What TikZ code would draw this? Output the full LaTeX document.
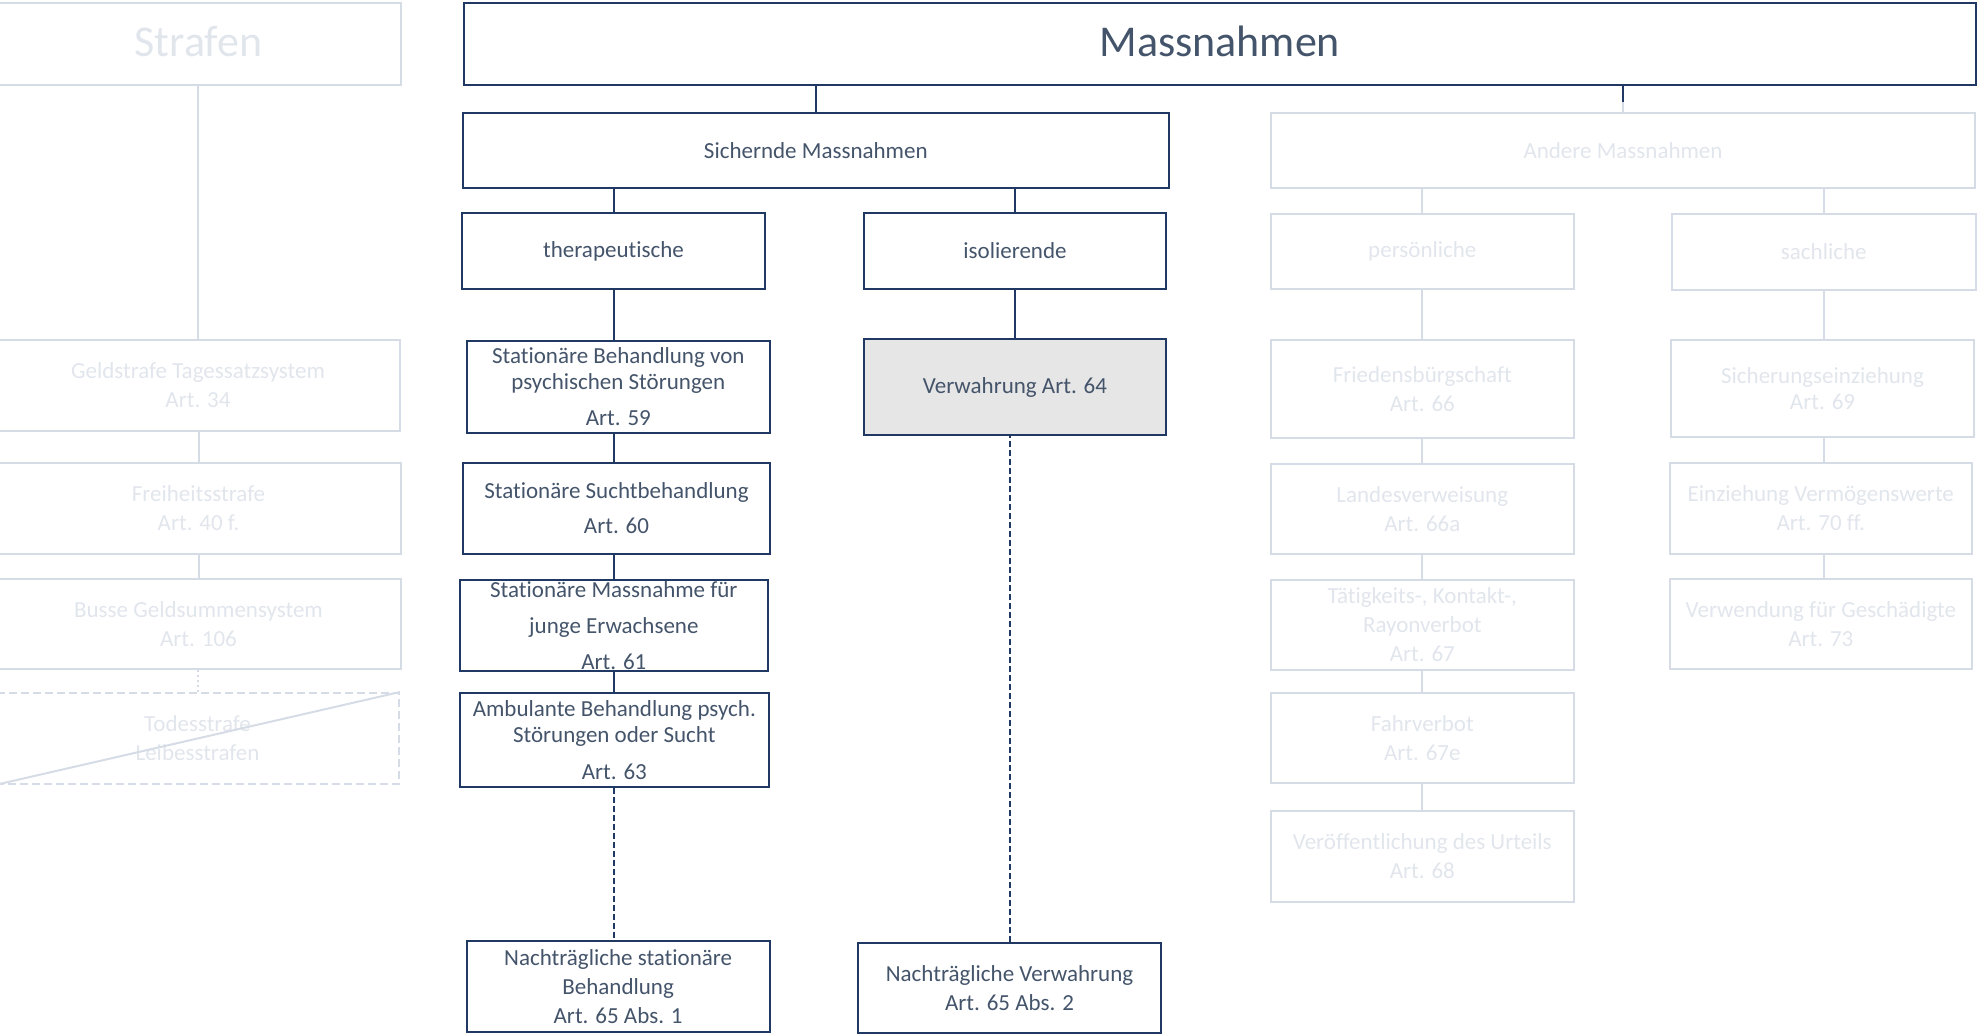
\documentclass[tikz,border=0pt]{standalone}
\usepackage{fontspec}
\setmainfont{Carlito}[Ligatures={NoCommon}]
\usetikzlibrary{calc}
\definecolor{navy}{HTML}{203864}
\definecolor{inkdark}{HTML}{44546A}
\definecolor{paleline}{HTML}{D6DCE5}
\definecolor{paletext}{HTML}{E1E5EC}
\definecolor{boxgray}{HTML}{E6E6E6}

% box given by its corners: name, x1, y1, x2, y2, style, text
\newcommand\chartbox[7]{%
  \node[#6, minimum width={#4-(#2)}, minimum height={#5-(#3)}]
    (#1) at ({(#2+#4)/2},{(#3+#5)/2}) {#7};}

\tikzset{
  dbox/.style={draw=navy, line width=2pt, text=inkdark, align=center,
    inner sep=0pt, font=\fontsize{23}{29}\selectfont},
  lbox/.style={draw=paleline, line width=2pt, text=paletext, align=center,
    inner sep=0pt, font=\fontsize{23}{29}\selectfont},
  titlefont/.style={font=\fontsize{44}{50}\selectfont, text depth=5pt},
  dlink/.style={draw=navy, line width=2pt},
  llink/.style={draw=paleline, line width=2pt},
  ddash/.style={dlink, dash pattern=on 6pt off 3pt},
}

\begin{document}
\begin{tikzpicture}[x=1pt, y=-1pt]
\useasboundingbox (0,0) rectangle (1977,1034);
\clip (0,0) rectangle (1977,1034);

% ---- Strafen (pale) ----
\chartbox{strafen}{-4}{3}{401}{85}{lbox, titlefont}{Strafen}
\chartbox{geld}{-4}{340}{400}{431}{lbox}{Geldstrafe Tagessatzsystem\\Art. 34}
\chartbox{frei}{-4}{463}{401}{554}{lbox}{Freiheitsstrafe\\Art. 40 f.}
\chartbox{busse}{-4}{579}{401}{669}{lbox}{Busse Geldsummensystem\\Art. 106}
\chartbox{todes}{-4}{693}{399}{784}{lbox, dash pattern=on 8pt off 4pt}{Todesstrafe\\Leibesstrafen}
\draw[llink] (todes.south west) -- (todes.north east);

\draw[llink] (geld.north) -- (geld.north |- strafen.south);
\draw[llink] (frei.north) -- (frei.north |- geld.south);
\draw[llink] (busse.north) -- (busse.north |- frei.south);
\draw[llink, dash pattern=on 2pt off 3pt] (todes.north) -- (todes.north |- busse.south);

% ---- Massnahmen ----
\chartbox{mass}{464}{3}{1975.5}{85}{dbox, titlefont}{Massnahmen}

% sichernde Massnahmen
\chartbox{sich}{463}{113}{1168.6}{188}{dbox}{Sichernde Massnahmen}
\chartbox{therap}{462}{213}{765}{289}{dbox}{therapeutische}
\chartbox{isol}{864}{213}{1166}{289}{dbox}{isolierende}
\chartbox{stat59}{467}{340.7}{769.6}{433}{dbox, font=\fontsize{23}{26}\selectfont}{Stationäre Behandlung von\\psychischen Störungen\\[10pt]Art. 59}
\chartbox{verw}{864}{339}{1166}{435}{dbox, fill=boxgray}{Verwahrung Art. 64}
\chartbox{stat60}{463}{463}{770}{553.8}{dbox, font=\fontsize{23}{35}\selectfont}{Stationäre Suchtbehandlung\\Art. 60}
\chartbox{stat61}{460}{579.6}{767.7}{670.6}{dbox, font=\fontsize{23}{36}\selectfont}{Stationäre Massnahme für\\junge Erwachsene\\Art. 61}
\chartbox{amb63}{460}{692.6}{768.6}{787}{dbox, font=\fontsize{23}{26}\selectfont}{Ambulante Behandlung psych.\\Störungen oder Sucht\\[11pt]Art. 63}
\chartbox{nstat}{466.7}{940.8}{769.6}{1031.8}{dbox}{Nachträgliche stationäre\\Behandlung\\Art. 65 Abs. 1}
\chartbox{nverw}{858}{942.6}{1161}{1032.6}{dbox}{Nachträgliche Verwahrung\\Art. 65 Abs. 2}

\draw[dlink] (sich.north) -- (sich.north |- mass.south);
\draw[dlink] (therap.north) -- (therap.north |- sich.south);
\draw[dlink] (isol.north) -- (isol.north |- sich.south);
\draw[dlink] (therap.south) -- (therap.south |- stat59.north);
\draw[dlink] (isol.south) -- (isol.south |- verw.north);
\draw[dlink] (therap.south |- stat59.south) -- (therap.south |- stat60.north);
\draw[dlink] (therap.south |- stat60.south) -- (therap.south |- stat61.north);
\draw[dlink] (therap.south |- stat61.south) -- (therap.south |- amb63.north);
\draw[ddash] (amb63.south) -- (amb63.south |- nstat.north);
\draw[ddash] (nverw.north) -- (nverw.north |- verw.south);

% andere Massnahmen (pale)
\chartbox{andere}{1271}{113}{1975}{188}{lbox}{Andere Massnahmen}
\chartbox{pers}{1271}{214}{1573.6}{289}{lbox}{persönliche}
\chartbox{sach}{1672}{214}{1975.5}{290}{lbox}{sachliche}
\chartbox{fried}{1271}{340}{1573.6}{438}{lbox}{Friedensbürgschaft\\Art. 66}
\chartbox{landes}{1271}{464}{1573.6}{554}{lbox}{Landesverweisung\\Art. 66a}
\chartbox{taet}{1271}{580}{1573.6}{670}{lbox}{Tätigkeits-, Kontakt-,\\Rayonverbot\\Art. 67}
\chartbox{fahr}{1271}{693}{1573.6}{783}{lbox}{Fahrverbot\\Art. 67e}
\chartbox{veroeff}{1271}{811}{1573.6}{902}{lbox}{Veröffentlichung des Urteils\\Art. 68}
\chartbox{sicher}{1671}{340}{1974}{437}{lbox, font=\fontsize{23}{26}\selectfont}{Sicherungseinziehung\\Art. 69}
\chartbox{einz}{1669.6}{463}{1972}{554}{lbox}{Einziehung Vermögenswerte\\Art. 70 ff.}
\chartbox{verwend}{1669.6}{579}{1972}{669}{lbox}{Verwendung für Geschädigte\\Art. 73}

\coordinate (andjoin) at ($(andere.north)!0.39!(andere.north |- mass.south)$);
\draw[dlink] (andjoin) -- (andere.north |- mass.south);
\draw[llink] (andere.north) -- (andjoin);
\draw[llink] (pers.north) -- (pers.north |- andere.south);
\draw[llink] (sach.north) -- (sach.north |- andere.south);
\draw[llink] (pers.south) -- (pers.south |- fried.north);
\draw[llink] (pers.south |- fried.south) -- (pers.south |- landes.north);
\draw[llink] (pers.south |- landes.south) -- (pers.south |- taet.north);
\draw[llink] (pers.south |- taet.south) -- (pers.south |- fahr.north);
\draw[llink] (pers.south |- fahr.south) -- (pers.south |- veroeff.north);
\draw[llink] (sach.south) -- (sach.south |- sicher.north);
\draw[llink] (sach.south |- sicher.south) -- (sach.south |- einz.north);
\draw[llink] (sach.south |- einz.south) -- (sach.south |- verwend.north);
\end{tikzpicture}
\end{document}
